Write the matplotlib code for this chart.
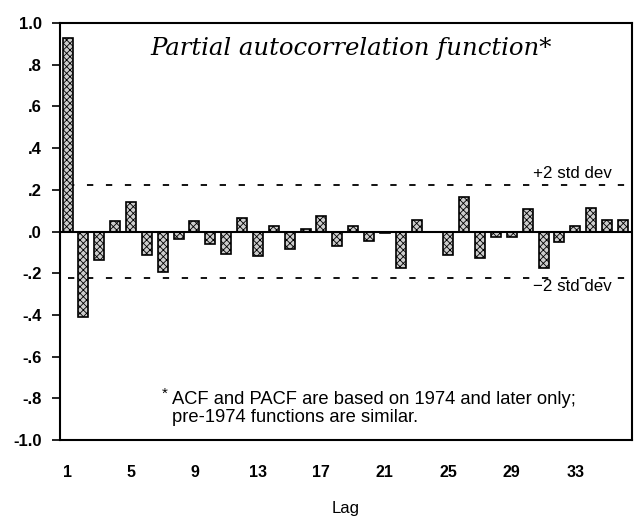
import matplotlib
matplotlib.use("Agg")
import matplotlib.pyplot as plt
import numpy as np

# ---- data ----
lags = list(range(1, 37))
pacf = [0.926, -0.409, -0.137, 0.050, 0.141, -0.114, -0.193, -0.034, 0.051, -0.058,
        -0.106, 0.067, -0.118, 0.026, -0.085, 0.010, 0.072, -0.069, 0.026, -0.045,
        -0.005, -0.173, 0.053, 0.0, -0.115, 0.164, -0.128, -0.024, -0.024, 0.109,
        -0.176, -0.048, 0.024, 0.112, 0.053, 0.053]
std_band = 0.224
x_ticks = [1, 5, 9, 13, 17, 21, 25, 29, 33]
y_ticks = [1.0, 0.8, 0.6, 0.4, 0.2, 0.0, -0.2, -0.4, -0.6, -0.8, -1.0]
y_tick_labels = ["1.0", ".8", ".6", ".4", ".2", ".0", "-.2", "-.4", "-.6", "-.8", "-1.0"]

sans = ['Liberation Sans Narrow', 'Liberation Sans', 'DejaVu Sans']
plt.rcParams['font.family'] = sans
plt.rcParams['hatch.color'] = '#444444'
plt.rcParams['hatch.linewidth'] = 0.6

fig = plt.figure(figsize=(6.38, 5.24), dpi=100)
ax = fig.add_axes([60/638, 1 - 440/524, 572/638, 417/524])

ax.set_xlim(0.527, 36.57)
ax.set_ylim(-1.0, 1.0)

# significance bands
ax.hlines([std_band, -std_band], 1.0, 36.5, colors='black', linestyles=(0, (3.5, 7)),
          linewidth=1.3, zorder=1)
# zero line
ax.axhline(0, color='black', linewidth=1.5, zorder=3)

ax.bar(lags, pacf, width=0.63, facecolor='#cccccc', edgecolor='black',
       linewidth=1.2, hatch='xxxxx', zorder=2)

for s in ax.spines.values():
    s.set_linewidth(1.5)

ax.set_yticks(y_ticks)
ax.set_yticklabels(y_tick_labels, fontsize=12, fontweight='bold')
ax.tick_params(axis='y', direction='out', length=6, width=1.2, pad=7)
ax.set_xticks(x_ticks)
ax.set_xticklabels([str(t) for t in x_ticks], fontsize=11.5, fontweight='bold')
ax.tick_params(axis='x', length=0, pad=18)
ax.set_xlabel("Lag", fontsize=12, labelpad=15)

ax.text(0.509, 0.940, "Partial autocorrelation function*", transform=ax.transAxes,
        ha='center', va='center', fontsize=17.6, style='italic',
        family=['DejaVu Serif'])

ax.text(0.965, 0.640, "+2 std dev", transform=ax.transAxes, ha='right', va='center',
        fontsize=12.2)
ax.text(0.965, 0.369, "\u22122 std dev", transform=ax.transAxes, ha='right', va='center',
        fontsize=12.2)

ax.text(0.178, 0.110, "*", transform=ax.transAxes, ha='left', va='center', fontsize=11)
ax.text(0.196, 0.096, "ACF and PACF are based on 1974 and later only;",
        transform=ax.transAxes, ha='left', va='center', fontsize=13.2)
ax.text(0.196, 0.053, "pre-1974 functions are similar.",
        transform=ax.transAxes, ha='left', va='center', fontsize=13.2)

fig.savefig("out.png", dpi=100)
